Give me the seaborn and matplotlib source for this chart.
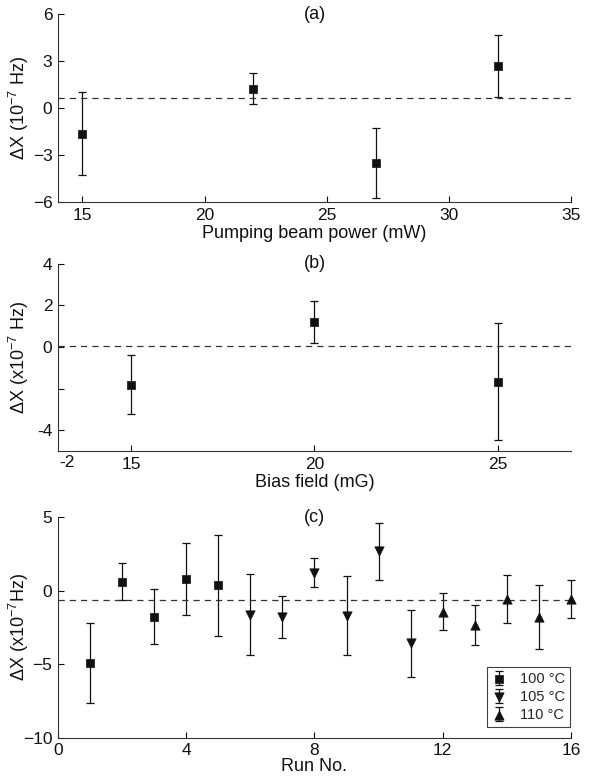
import numpy as np
import pandas as pd
import matplotlib
matplotlib.use("Agg")
import matplotlib.pyplot as plt
import seaborn as sns

# (a) pumping beam power scan
power_mw = [15, 22, 27, 32]
power_dx = [-1.65, 1.23, -3.51, 2.70]
power_err = [2.65, 1.00, 2.25, 1.97]
power_mean = 0.64

# (b) bias field scan
bias_mg = [15, 20, 25]
bias_dx = [-1.82, 1.18, -1.66]
bias_err = [1.42, 1.01, 2.80]
bias_mean = 0.03

# (c) individual runs, grouped by cell temperature
run_no = list(range(1, 17))
run_dx = [-4.90, 0.61, -1.77, 0.79, 0.36, -1.63, -1.79, 1.22, -1.70, 2.68,
          -3.58, -1.43, -2.34, -0.59, -1.81, -0.57]
run_err = [2.71, 1.25, 1.88, 2.44, 3.44, 2.78, 1.43, 1.00, 2.67, 1.94,
           2.27, 1.28, 1.35, 1.64, 2.17, 1.28]
run_temp = ['100 °C'] * 5 + ['105 °C'] * 6 + ['110 °C'] * 5
run_mean = -0.66

temp_markers = {'100 °C': 's', '105 °C': 'v', '110 °C': '^'}

sns.set_style("ticks")
plt.rcParams['font.family'] = ['Liberation Sans', 'DejaVu Sans']
plt.rcParams['mathtext.default'] = 'regular'
plt.rcParams['axes.linewidth'] = 0.8
plt.rcParams['axes.edgecolor'] = '#333333'

INK = '#111111'
TICK_FS = 12.5
LABEL_FS = 13


def style_axis(ax, title):
    sns.despine(ax=ax)
    ax.tick_params(direction='in', length=4, width=0.8, labelsize=TICK_FS, colors=INK, pad=4)
    ax.text(0.5, 1.0, title, transform=ax.transAxes, ha='center', va='center', fontsize=LABEL_FS, color=INK)
    ax.yaxis.set_label_coords(-0.052, 0.5)


def draw_points(ax, x, y, err, marker, size):
    cont = ax.errorbar(x, y, yerr=err, fmt='none', ecolor=INK, elinewidth=0.9, capsize=3, capthick=0.9)
    for part in cont.lines[1] + cont.lines[2]:
        part.set_clip_on(False)
    sns.scatterplot(x=x, y=y, marker=marker, s=size, color=INK, edgecolor=INK, linewidth=0.5, ax=ax,
                    legend=False, zorder=3, clip_on=False)
    return cont, ax.collections[-1]


fig = plt.figure(figsize=(5.95, 7.79), dpi=100)
ax_a = fig.add_axes([0.0975, 0.7407, 0.862, 0.2413])
ax_b = fig.add_axes([0.0975, 0.4210, 0.862, 0.2404])
ax_c = fig.add_axes([0.0975, 0.0530, 0.862, 0.2833])

# (a)
draw_points(ax_a, power_mw, power_dx, power_err, 's', 28)
ax_a.axhline(power_mean, color='#333333', lw=0.9, ls=(0, (5, 4)))
ax_a.set_xlim(14, 35)
ax_a.set_ylim(-6, 6)
ax_a.set_xticks([15, 20, 25, 30, 35])
ax_a.set_yticks([-6, -3, 0, 3, 6])
ax_a.set_xlabel('Pumping beam power (mW)', fontsize=LABEL_FS, color=INK, labelpad=2)
ax_a.set_ylabel(r'$\Delta$X (10$^{-7}$ Hz)', fontsize=LABEL_FS, color=INK)
style_axis(ax_a, '(a)')

# (b)
draw_points(ax_b, bias_mg, bias_dx, bias_err, 's', 28)
ax_b.axhline(bias_mean, color='#333333', lw=0.9, ls=(0, (5, 4)))
ax_b.set_xlim(13, 27)
ax_b.set_ylim(-5, 4)
ax_b.set_xticks([15, 20, 25])
ax_b.set_yticks([-4, -2, 0, 2, 4])
ax_b.set_yticklabels(['-4', '', '0', '2', '4'])
ax_b.text(0.017, -0.02, '-2', transform=ax_b.transAxes, ha='center', va='top', fontsize=TICK_FS, color=INK)
ax_b.set_xlabel('Bias field (mG)', fontsize=LABEL_FS, color=INK, labelpad=2)
ax_b.set_ylabel(r'$\Delta$X (x10$^{-7}$ Hz)', fontsize=LABEL_FS, color=INK)
style_axis(ax_b, '(b)')

# (c)
runs = pd.DataFrame({'run': run_no, 'dx': run_dx, 'err': run_err, 'temp': run_temp})
handles, labels = [], []
for temp, group in runs.groupby('temp', sort=False):
    size = 28 if temp_markers[temp] == 's' else 45
    cont, pts = draw_points(ax_c, group['run'].tolist(), group['dx'].tolist(), group['err'].tolist(),
                            temp_markers[temp], size)
    handles.append((cont, pts))
    labels.append(temp)
ax_c.axhline(run_mean, color='#333333', lw=0.9, ls=(0, (5, 4)))
ax_c.set_xlim(0, 16)
ax_c.set_ylim(-10, 5)
ax_c.set_xticks([0, 4, 8, 12, 16])
ax_c.set_yticks([-10, -5, 0, 5])
ax_c.set_xlabel('Run No.', fontsize=LABEL_FS, color=INK, labelpad=0)
ax_c.set_ylabel(r'$\Delta$X (x10$^{-7}$Hz)', fontsize=LABEL_FS, color=INK)
style_axis(ax_c, '(c)')
leg = ax_c.legend(handles, labels, loc='lower right', fontsize=10.5, frameon=True, fancybox=False,
                  edgecolor=INK, handlelength=1.0, handletextpad=0.9, borderpad=0.35, labelspacing=0.27,
                  borderaxespad=0, bbox_to_anchor=(0.998, 0.048))
leg.get_frame().set_linewidth(0.8)

fig.savefig('out.png', dpi=100)
